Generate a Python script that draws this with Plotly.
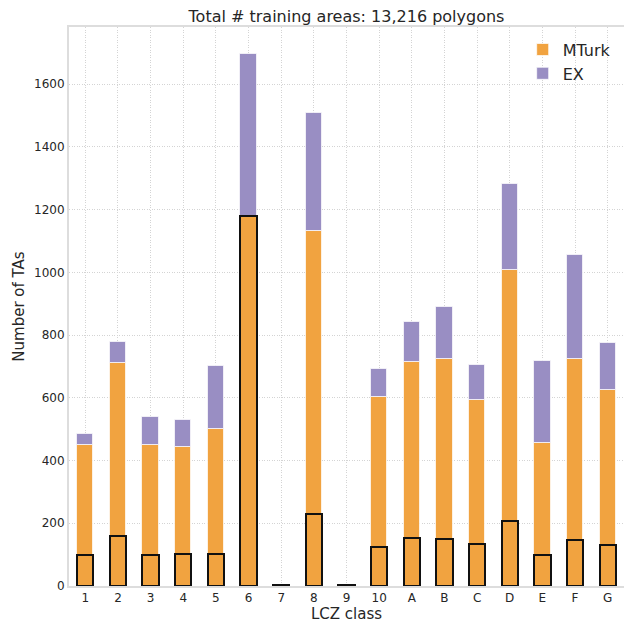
import plotly.graph_objects as go

categories = ["1", "2", "3", "4", "5", "6", "7", "8", "9", "10",
              "A", "B", "C", "D", "E", "F", "G"]
mturk = [448, 710, 450, 442, 502, 1179, 0, 1133, 0, 603,
         714, 723, 593, 1007, 455, 723, 625]
total = [484, 778, 539, 530, 701, 1695, 0, 1507, 0, 692,
         841, 891, 704, 1282, 718, 1056, 774]
ex = [t - m for t, m in zip(total, mturk)]
subset = [99, 160, 98, 103, 103, 1179, 2, 230, 2, 125,
          154, 151, 135, 206, 100, 147, 131]
y_ticks = [0, 200, 400, 600, 800, 1000, 1200, 1400, 1600]

ORANGE = "#f1a340"
PURPLE = "#998ec3"
FONT = "DejaVu Sans"

fig = go.Figure()
fig.add_trace(go.Bar(
    x=categories, y=mturk, name="MTurk", width=0.5,
    marker=dict(color=ORANGE, line=dict(color="rgba(255,255,255,0.7)", width=1)),
))
fig.add_trace(go.Bar(
    x=categories, y=ex, base=mturk, name="EX", width=0.5,
    marker=dict(color=PURPLE, line=dict(color="rgba(255,255,255,0.7)", width=1)),
))
fig.add_trace(go.Bar(
    x=categories, y=subset, name="subset", width=0.5, showlegend=False,
    marker=dict(color=ORANGE, line=dict(color="#111111", width=2)),
))

fig.update_layout(
    width=624, height=623,
    barmode="overlay",
    plot_bgcolor="white", paper_bgcolor="white",
    margin=dict(l=69, r=0, t=27, b=37),
    font=dict(family=FONT, color="#262626", size=12),
    title=dict(text="Total # training areas: 13,216 polygons",
               x=(69 + 624) / 2 / 624, xanchor="center", y=1 - 16 / 623, yanchor="middle",
               font=dict(size=16, color="#262626")),
    legend=dict(x=0.985, y=0.99, xanchor="right", yanchor="top",
                bgcolor="rgba(0,0,0,0)", font=dict(size=16, color="#262626"),
                itemwidth=30, tracegroupgap=2),
    bargap=0,
)
fig.update_xaxes(
    type="category", range=[-0.5, 16.5],
    showgrid=True, gridcolor="#d4d4d4", griddash="1px,1.5px", gridwidth=1,
    showline=True, linecolor="#dddddd", linewidth=2, mirror=True,
    ticks="", tickfont=dict(size=12, color="#262626"),
    title=dict(text="LCZ class", font=dict(size=15, color="#262626"), standoff=1),
    zeroline=False,
)
fig.update_yaxes(
    range=[0, 1782], tickvals=y_ticks,
    showgrid=True, gridcolor="#d4d4d4", griddash="1px,1.5px", gridwidth=1,
    showline=True, linecolor="#dddddd", linewidth=2, mirror=False,
    ticks="", tickfont=dict(size=12, color="#262626"),
    title=dict(text="Number of TAs", font=dict(size=15, color="#262626"), standoff=6),
    zeroline=False,
)

fig.write_html("out.html", config={"displayModeBar": False},
               post_script="document.body.style.margin='0';document.body.style.padding='0';")
